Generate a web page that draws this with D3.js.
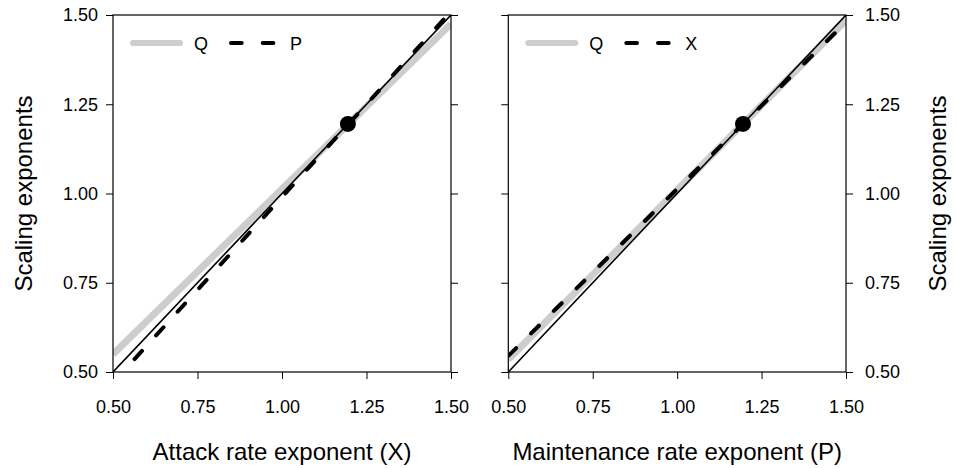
<!DOCTYPE html>
<html>
<head>
<meta charset="utf-8">
<script src="https://cdn.jsdelivr.net/npm/d3@7"></script>
<style>
  html, body { margin: 0; padding: 0; background: #fff; }
  svg { display: block; font-family: "Liberation Sans", Arial, sans-serif; }
</style>
</head>
<body>
<svg id="chart" width="956" height="468"></svg>
<script>
// ---- data ----
const axisTicks = [0.5, 0.75, 1.0, 1.25, 1.5];
const lineX = [0.5, 1.5];
const identityY = [0.5, 1.5];
// left panel: x = attack rate exponent
const leftQ = [0.55, 1.475];
const leftP = [0.47, 1.51];
// right panel: x = maintenance rate exponent
const rightQ = [0.535, 1.485];
const rightX = [0.545, 1.48];
const pointXY = [1.195, 1.195];
const panelTitles = ["Attack rate exponent (X)", "Maintenance rate exponent (P)"];
const legendLabels = [["Q", "P"], ["Q", "X"]];
const yTitle = "Scaling exponents";

(function () {
const svg = d3.select("#chart");
const yTop = 15, yBot = 372;
const panels = [
  { x0: 113, x1: 451, q: leftQ, d: leftP, title: panelTitles[0], leg: legendLabels[0], side: "left" },
  { x0: 508.3, x1: 846, q: rightQ, d: rightX, title: panelTitles[1], leg: legendLabels[1], side: "right" }
];
const fmt = d3.format(".2f");
const grayCol = "#cdcdcd";

panels.forEach((p, i) => {
  const x = d3.scaleLinear().domain([0.5, 1.5]).range([p.x0, p.x1]);
  const y = d3.scaleLinear().domain([0.5, 1.5]).range([yBot, yTop]);
  const g = svg.append("g");
  const clipId = "clip" + i;
  svg.append("defs").append("clipPath").attr("id", clipId)
    .append("rect").attr("x", p.x0).attr("y", yTop).attr("width", p.x1 - p.x0).attr("height", yBot - yTop);

  const line = d3.line().x(d => x(d[0])).y(d => y(d[1]));
  const plot = g.append("g").attr("clip-path", `url(#${clipId})`);
  plot.append("path").datum(lineX.map((v, k) => [v, p.q[k]])).attr("d", line)
    .attr("fill", "none").attr("stroke", grayCol).attr("stroke-width", 7);
  plot.append("path").datum(lineX.map((v, k) => [v, identityY[k]])).attr("d", line)
    .attr("fill", "none").attr("stroke", "#000").attr("stroke-width", 1.6);
  plot.append("path").datum(lineX.map((v, k) => [v, p.d[k]])).attr("d", line)
    .attr("fill", "none").attr("stroke", "#000").attr("stroke-width", 4)
    .attr("stroke-dasharray", "11 21").attr("stroke-linecap", "round");
  g.append("circle").attr("cx", x(pointXY[0])).attr("cy", y(pointXY[1])).attr("r", 8).attr("fill", "#000");

  // axes
  const xAxis = g.append("g").attr("transform", `translate(0,${yBot})`)
    .call(d3.axisBottom(x).tickValues(axisTicks).tickFormat(fmt).tickSize(7).tickPadding(8));
  const yl = g.append("g").attr("transform", `translate(${p.x0},0)`)
    .call(d3.axisLeft(y).tickValues(axisTicks).tickFormat(fmt).tickSize(7).tickPadding(8));
  const yr = g.append("g").attr("transform", `translate(${p.x1},0)`)
    .call(d3.axisRight(y).tickValues(axisTicks).tickFormat(fmt).tickSize(7).tickPadding(12));
  if (p.side === "left") yr.selectAll("text").remove(); else yl.selectAll("text").remove();
  [xAxis, yl, yr].forEach(a => {
    a.selectAll(".domain").remove();
    a.selectAll("line").attr("stroke", "#000").attr("stroke-width", 1);
    a.selectAll("text").attr("font-size", 18).attr("fill", "#000").attr("font-family", "Liberation Sans, Arial, sans-serif");
  });
  xAxis.selectAll("text").attr("dy", null).attr("y", 0).attr("transform", "translate(0,41)");
  // box
  g.append("rect").attr("x", p.x0).attr("y", yTop).attr("width", p.x1 - p.x0).attr("height", yBot - yTop)
    .attr("fill", "none").attr("stroke", "#000").attr("stroke-width", 1.2);

  // titles
  g.append("text").attr("x", (p.x0 + p.x1) / 2).attr("y", 460).attr("text-anchor", "middle")
    .attr("font-size", 24).text(p.title);
  const tx = p.side === "left" ? 24 : 938;
  g.append("text").attr("transform", `translate(${tx + 8},${(yTop + yBot) / 2}) rotate(-90)`)
    .attr("text-anchor", "middle").attr("font-size", 24).text(yTitle);

  // legend
  const lx = p.x0 + 20, ly = 43;
  g.append("line").attr("x1", lx).attr("x2", lx + 47).attr("y1", ly).attr("y2", ly)
    .attr("stroke", grayCol).attr("stroke-width", 6).attr("stroke-linecap", "round");
  g.append("text").attr("x", lx + 61).attr("y", ly + 6.5).attr("font-size", 18).text(p.leg[0]);
  g.append("line").attr("x1", lx + 98).attr("x2", lx + 141).attr("y1", ly).attr("y2", ly)
    .attr("stroke", "#000").attr("stroke-width", 4).attr("stroke-linecap", "round")
    .attr("stroke-dasharray", "10.7 21");
  g.append("text").attr("x", lx + 157).attr("y", ly + 6.5).attr("font-size", 18).text(p.leg[1]);
});
})();
</script>
</body>
</html>
